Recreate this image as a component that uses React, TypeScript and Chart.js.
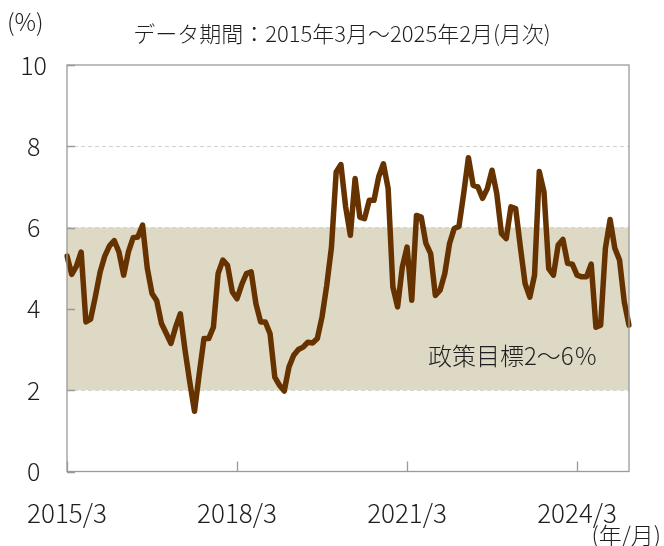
import React, { useEffect, useRef } from "react";
import { Chart, registerables } from "chart.js";

Chart.register(...registerables);

// ---- data ----
const START_YEAR = 2015;
const START_MONTH = 3;
const MONTH_COUNT = 120;

const categories: string[] = Array.from({ length: MONTH_COUNT }, (_, i) => {
  const m = START_MONTH - 1 + i;
  return `${START_YEAR + Math.floor(m / 12)}/${(m % 12) + 1}`;
});

const tickLabels = ["2015/3", "2018/3", "2021/3", "2024/3"];
const yTicks = [0, 2, 4, 6, 8, 10];

const inflation: number[] = [
  5.3, 4.85, 5.05, 5.4, 3.68, 3.75, 4.3, 4.9, 5.3, 5.55,
  5.68, 5.4, 4.83, 5.4, 5.75, 5.77, 6.06, 5.0, 4.38, 4.2,
  3.64, 3.4, 3.15, 3.55, 3.88, 2.98, 2.2, 1.48, 2.4, 3.27,
  3.27, 3.55, 4.87, 5.2, 5.07, 4.42, 4.25, 4.6, 4.87, 4.91,
  4.13, 3.68, 3.68, 3.39, 2.32, 2.12, 1.98, 2.57, 2.86, 3.0,
  3.06, 3.18, 3.16, 3.27, 3.8, 4.58, 5.52, 7.37, 7.55, 6.51,
  5.81, 7.21, 6.26, 6.22, 6.67, 6.67, 7.25, 7.57, 6.96, 4.54,
  4.05, 5.03, 5.52, 4.21, 6.3, 6.26, 5.61, 5.36, 4.33, 4.46,
  4.87, 5.61, 5.98, 6.03, 6.84, 7.72, 7.04, 7.0, 6.72, 6.96,
  7.41, 6.84, 5.85, 5.73, 6.51, 6.47, 5.52, 4.62, 4.29, 4.83,
  7.38, 6.88, 4.99, 4.83, 5.57, 5.71, 5.12, 5.1, 4.83, 4.79,
  4.79, 5.1, 3.55, 3.6, 5.49, 6.2, 5.49, 5.2, 4.17, 3.6,
];

const targetBand = [2, 6];

const titleText = "データ期間：2015年3月～2025年2月(月次)";
const unitText = "(%)";
const xUnitText = "(年/月)";
const bandText = "政策目標2～6％";

// ---- styles ----
const FONT = '"Noto Sans CJK JP", "Noto Sans", sans-serif';
const TEXT = "#1e1e1e";
const AXIS = "#9a9a9a";
const LINE = "#663300";
const BAND = "#ddd9c4";

const decor = {
  id: "decor",
  beforeDatasetsDraw(chart: any) {
    const { ctx, chartArea: a, scales } = chart;
    const y = scales.y;
    const top = y.getPixelForValue(targetBand[1]);
    const bot = y.getPixelForValue(targetBand[0]);
    ctx.save();
    ctx.fillStyle = BAND;
    ctx.fillRect(a.left, top, a.right - a.left, bot - top);
    ctx.restore();
  },
  afterDraw(chart: any) {
    const { ctx, chartArea: a, scales } = chart;
    const x = scales.x;
    const y = scales.y;
    ctx.save();
    // frame
    ctx.strokeStyle = AXIS;
    ctx.lineWidth = 1.3;
    ctx.strokeRect(a.left, a.top, a.right - a.left, a.bottom - a.top);
    // inward y ticks
    ctx.beginPath();
    for (const v of yTicks) {
      const py = Math.round(y.getPixelForValue(v)) + 0.5;
      ctx.moveTo(a.left, py);
      ctx.lineTo(a.left + 8, py);
    }
    // inward x ticks
    x.ticks.forEach((t: any, i: number) => {
      if (t.label === null || t.label === undefined || t.label === "") return;
      const px = Math.round(x.getPixelForTick(i)) + 0.5;
      ctx.moveTo(px, a.bottom);
      ctx.lineTo(px, a.bottom - 10);
    });
    ctx.stroke();

    // texts
    ctx.fillStyle = TEXT;
    ctx.textBaseline = "middle";
    ctx.font = `300 24px ${FONT}`;
    ctx.textAlign = "left";
    ctx.fillText(unitText, 7, 22);
    ctx.font = `300 22px ${FONT}`;
    ctx.textAlign = "center";
    ctx.fillText(titleText, 342, 34);
    ctx.font = `300 23px ${FONT}`;
    ctx.textAlign = "right";
    ctx.fillText(xUnitText, 661, 535);
    ctx.font = `300 24px ${FONT}`;
    ctx.textAlign = "left";
    ctx.fillText(bandText, 428, y.getPixelForValue(2.85));
    ctx.restore();
  },
};

export default function App() {
  const ref = useRef<HTMLCanvasElement | null>(null);

  useEffect(() => {
    if (!ref.current) return;
    const chart = new Chart(ref.current, {
      type: "line",
      data: {
        labels: categories,
        datasets: [
          {
            data: inflation,
            borderColor: LINE,
            borderWidth: 5.5,
            pointRadius: 0,
            tension: 0,
            borderJoinStyle: "round",
            borderCapStyle: "round",
            fill: false,
          },
        ],
      },
      options: {
        animation: false,
        responsive: false,
        devicePixelRatio: 1,
        layout: { padding: { top: 65, right: 35, left: 0, bottom: 0 } },
        plugins: {
          legend: { display: false },
          tooltip: { enabled: false },
          title: { display: false },
        },
        scales: {
          x: {
            type: "category",
            offset: false,
            grid: { display: false, drawTicks: false },
            border: { display: false },
            ticks: {
              autoSkip: false,
              maxRotation: 0,
              minRotation: 0,
              padding: 26,
              color: TEXT,
              font: { family: FONT, size: 26, weight: "300" },
              callback: (_v: any, i: number) =>
                tickLabels.includes(categories[i]) ? categories[i] : null,
            },
            afterFit: (s: any) => {
              s.height = 74.5;
            },
          },
          y: {
            min: 0,
            max: 10,
            grid: {
              drawTicks: false,
              color: (c: any) =>
                c.tick && c.tick.value > 0 && c.tick.value < 10 ? "#d2d2d2" : "rgba(0,0,0,0)",
              lineWidth: 1,
            },
            border: { display: false, dash: [4, 3] },
            ticks: {
              stepSize: 2,
              padding: 20,
              crossAlign: "center",
              color: TEXT,
              font: { family: FONT, size: 25, weight: "300" },
            },
            afterFit: (s: any) => {
              s.width = 67;
            },
          },
        },
      },
      plugins: [decor],
    });
    return () => chart.destroy();
  }, []);

  return (
    <div style={{ position: "absolute", left: 0, top: 0, width: 664, height: 546 }}>
      <canvas ref={ref} width={664} height={546} style={{ display: "block", width: 664, height: 546 }} />
    </div>
  );
}
